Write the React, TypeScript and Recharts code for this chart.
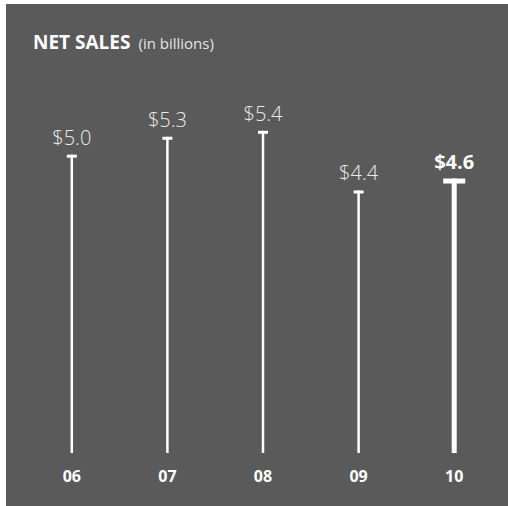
import { BarChart, Bar, XAxis, YAxis, LabelList } from 'recharts'

const years = ['06', '07', '08', '09', '10']
const sales = [5.0, 5.3, 5.4, 4.4, 4.6]
const valueLabels = ['$5.0', '$5.3', '$5.4', '$4.4', '$4.6']
const highlightYear = '10'

const chartData = years.map((year, i) => ({
  year,
  sales: sales[i],
  label: valueLabels[i],
}))

const FONT = '"Open Sans", "DejaVu Sans", sans-serif'

function StemBar(props: any) {
  const { x, y, width, height, payload } = props
  if (height == null || height <= 0) return null
  const hi = payload.year === highlightYear
  const cx = x + width / 2
  const stem = hi ? 5 : 2.5
  const capW = hi ? 22 : 10
  const capH = hi ? 5 : 3
  return (
    <g>
      <rect x={cx - stem / 2} y={y} width={stem} height={height} fill="#ffffff" />
      <rect x={cx - capW / 2} y={y} width={capW} height={capH} fill="#ffffff" />
    </g>
  )
}

function ValueLabel(props: any) {
  const { x, y, width, value, index } = props
  const hi = years[index] === highlightYear
  return (
    <text
      x={x + width / 2}
      y={y - 10}
      textAnchor="middle"
      fontFamily={FONT}
      fontSize={20}
      fontWeight={hi ? 700 : 300}
      fill={hi ? '#ffffff' : '#ececec'}
    >
      {value}
    </text>
  )
}

function YearTick(props: any) {
  const { x, y, payload } = props
  return (
    <text
      x={x}
      y={y + 21}
      textAnchor="middle"
      fontFamily={FONT}
      fontSize={16}
      fontWeight={700}
      fill="#ffffff"
    >
      {payload.value}
    </text>
  )
}

export default function App() {
  return (
    <div style={{ position: 'absolute', left: 0, top: 0, width: 508, height: 506, background: '#ffffff' }}>
      <div style={{ position: 'absolute', left: 6, top: 4, width: 502, height: 502, background: '#5a5a5a' }} />
      <div
        style={{
          position: 'absolute',
          left: 33,
          top: 30,
          fontFamily: FONT,
          color: '#ffffff',
          whiteSpace: 'nowrap',
          lineHeight: '24px',
        }}
      >
        <span style={{ fontSize: 19, fontWeight: 700 }}>NET SALES</span>
        <span style={{ fontSize: 15, fontWeight: 400, color: '#e4e4e4', marginLeft: 8 }}>(in billions)</span>
      </div>
      <div style={{ position: 'absolute', left: 0, top: 0 }}>
        <BarChart
          width={508}
          height={506}
          data={chartData}
          margin={{ top: 95, right: 6, left: 24, bottom: 0 }}
          barCategoryGap="60%"
        >
          <XAxis
            dataKey="year"
            axisLine={false}
            tickLine={false}
            height={53}
            tick={<YearTick />}
            interval={0}
          />
          <YAxis hide domain={[0, 6]} />
          <Bar dataKey="sales" shape={<StemBar />} isAnimationActive={false}>
            <LabelList dataKey="label" content={<ValueLabel />} />
          </Bar>
        </BarChart>
      </div>
    </div>
  )
}
